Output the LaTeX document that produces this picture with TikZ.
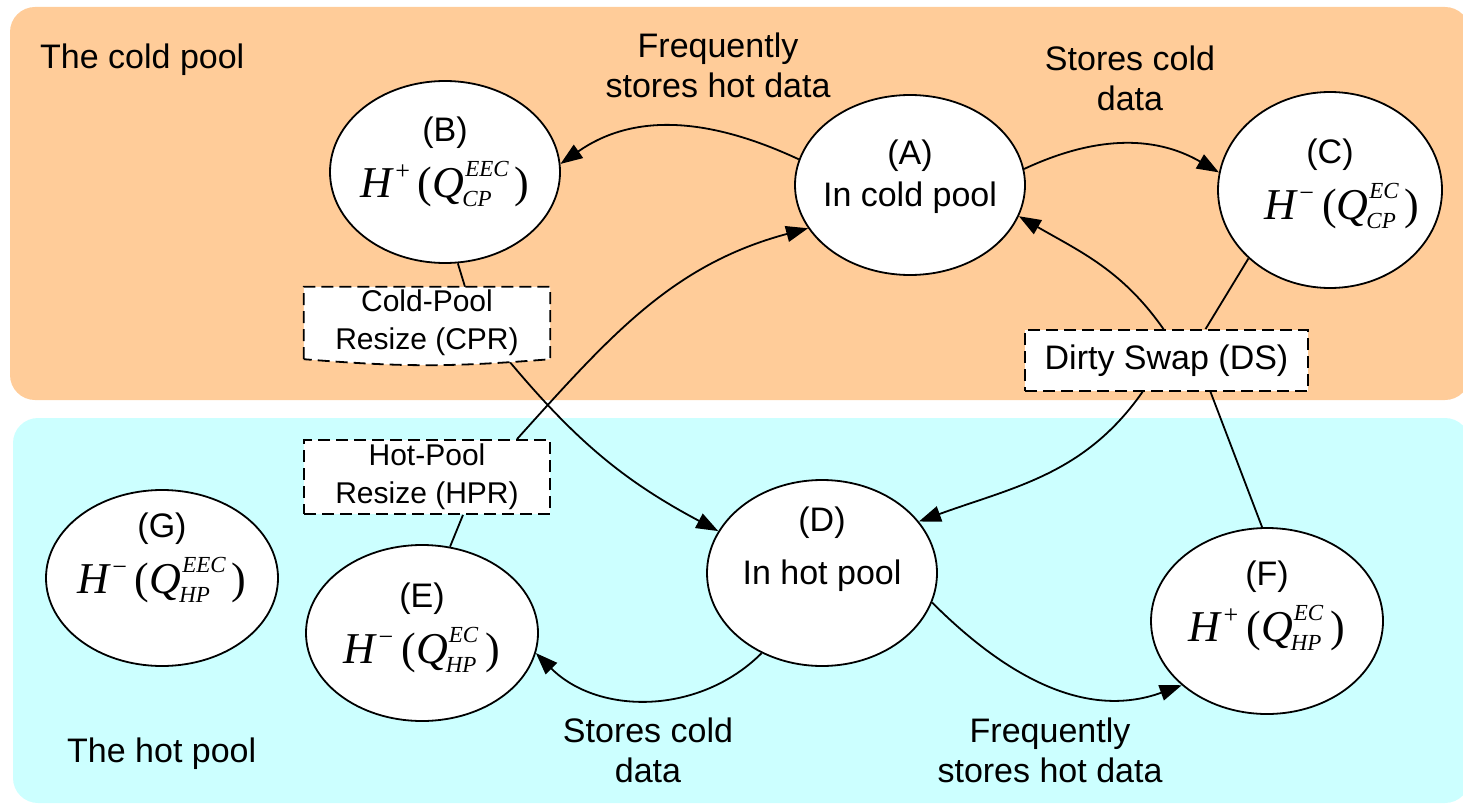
\documentclass[tikz,border=0pt]{standalone}
\usepackage{fontspec}
\setmainfont{Liberation Sans}
\newfontfamily\tms{Liberation Serif}
\usetikzlibrary{arrows.meta,shapes.geometric}
\definecolor{coldc}{RGB}{255,204,153}
\definecolor{hotc}{RGB}{204,255,255}
\newsavebox\hqsupbox
\newsavebox\hqsubbox
\newcommand\HQ[3]{\begingroup\tms
\sbox\hqsupbox{\fontsize{23}{23}\selectfont\itshape #2}%
\sbox\hqsubbox{\fontsize{23}{23}\selectfont\itshape #3}%
\fontsize{44}{44}\selectfont\itshape H\kern3pt\raisebox{18pt}{\fontsize{26}{26}\selectfont\upshape #1}\kern8pt\upshape(\itshape Q\kern1pt\rlap{\raisebox{21pt}{\usebox\hqsupbox}}\kern-3pt\rlap{\raisebox{-9pt}{\usebox\hqsubbox}}\kern3pt\ifdim\wd\hqsupbox>\wd\hqsubbox\hskip\wd\hqsupbox\else\hskip\wd\hqsubbox\fi\kern6pt\upshape)\endgroup}
\pgfdeclarelayer{bg}
\pgfdeclarelayer{edges}
\pgfdeclarelayer{boxes}
\pgfsetlayers{bg,edges,boxes,main}
\begin{document}
\begin{tikzpicture}[x=1pt,y=1pt,
  st/.style={ellipse,draw,line width=1.8pt,fill=white,inner sep=0pt},
  txt/.style={inner sep=0pt,align=center,font=\fontsize{34}{42}\selectfont},
  dbox/.style={draw,line width=1.8pt,dash pattern=on 12pt off 6pt,fill=white,inner sep=0pt,align=center},
  conn/.style={line width=1.8pt},
  arr/.style={conn,-{Triangle[length=22pt,width=16pt]}},
  lbl/.style={inner sep=0pt,align=center,font=\fontsize{34}{40}\selectfont}]
\useasboundingbox (0,0) rectangle (1463,-805);
\begin{pgfonlayer}{bg}
\fill[coldc,rounded corners=25pt] (10,-7) rectangle (1470,-400);
\fill[hotc,rounded corners=25pt] (13,-418) rectangle (1470,-803);
\end{pgfonlayer}
\node[inner sep=0pt,anchor=base west,font=\fontsize{34}{40}\selectfont] (coldt) at (40,-69) {The cold pool};
\node[inner sep=0pt,anchor=base west,font=\fontsize{34}{40}\selectfont] (hott) at (67,-762) {The hot pool};
% states
\node[st,minimum width=230pt,minimum height=180pt] (A) at (910,-185) {};
\node[st,minimum width=230pt,minimum height=182pt] (B) at (445,-172) {};
\node[st,minimum width=224pt,minimum height=196pt] (C) at (1330,-190) {};
\node[st,minimum width=230pt,minimum height=186pt] (D) at (822,-573) {};
\node[st,minimum width=232pt,minimum height=176pt] (E) at (422,-633) {};
\node[st,minimum width=232pt,minimum height=186pt] (F) at (1267,-621) {};
\node[st,minimum width=232pt,minimum height=176pt] (G) at (162,-578) {};
\node[txt] (At) at ([yshift=8pt]A.center) {(A)\\In cold pool};
\node[txt] (Bt) at ([yshift=10pt]B.center) {(B)\\[12pt]\HQ{+}{EEC}{CP}};
\node[txt] (Ct) at ([yshift=6pt]C.center) {(C)\\[12pt]\hspace*{24pt}\HQ{−}{EC}{CP}};
\node[txt] (Dt) at ([yshift=24pt]D.center) {(D)\\[11pt]In hot pool};
\node[txt] (Et) at ([yshift=5pt]E.center) {(E)\\[12pt]\HQ{−}{EC}{HP}};
\node[txt] (Ft) at ([yshift=15pt]F.center) {(F)\\[12pt]\HQ{+}{EC}{HP}};
\node[txt] (Gt) at ([yshift=20pt]G.center) {(G)\\[12pt]\HQ{−}{EEC}{HP}};
% boxes
\node[dbox,minimum width=283pt,minimum height=61pt,font=\fontsize{34}{40}\selectfont] (DS) at (1166.5,-360.5) {Dirty Swap (DS)};
\node[dbox,minimum width=246pt,minimum height=74pt,font=\fontsize{30}{38}\selectfont] (HPR) at (427,-477) {Hot-Pool\\Resize (HPR)};
\node[inner sep=0pt,minimum width=246pt,minimum height=72pt,align=center,font=\fontsize{30}{38}\selectfont] (CPR) at (427,-323) {Cold-Pool\\Resize (CPR)};
\begin{pgfonlayer}{boxes}
\draw[line width=1.8pt,dash pattern=on 12pt off 6pt,fill=white] (CPR.south west) -- (CPR.north west) -- (CPR.north east) -- (CPR.south east) .. controls +(-100,-8) and +(100,-8) .. (CPR.south west) -- cycle;
\end{pgfonlayer}
% edge labels
\node[lbl] (l1) at (718,-65) {Frequently\\stores hot data};
\node[lbl] (l2) at (1130,-78) {Stores cold\\data};
\node[lbl] (l3) at (648,-750) {Stores cold\\data};
\node[lbl] (l4) at (1050,-750) {Frequently\\stores hot data};
% edges
\begin{pgfonlayer}{edges}
\draw[arr] (A.167) to[out=155,in=35] (B.4);
\draw[arr] (A.8) to[out=25,in=150] (C.171);
\draw[conn] (C.220) -- ([xshift=39pt]DS.north);
\draw[arr] ([xshift=-3pt]DS.north) to[out=125,in=-30] (A.-16);
\draw[arr] ([xshift=-24pt]DS.south) to[out=235,in=20] (D.28);
\draw[conn] (F.93) -- ([xshift=44pt]DS.south);
\draw[conn] (B.278) -- ([xshift=38pt]CPR.north);
\draw[arr] ([xshift=83pt,yshift=-3pt]CPR.south) to[out=-50,in=152] (D.158);
\draw[conn] (E.72) -- ([xshift=36pt]HPR.south);
\draw[arr] ([xshift=90pt]HPR.north) to[out=48,in=195] (A.203);
\draw[arr] (D.233) to[out=225,in=-45] (E.-10);
\draw[arr] (D.-15) to[out=-45,in=200] (F.217);
\end{pgfonlayer}
\end{tikzpicture}
\end{document}
